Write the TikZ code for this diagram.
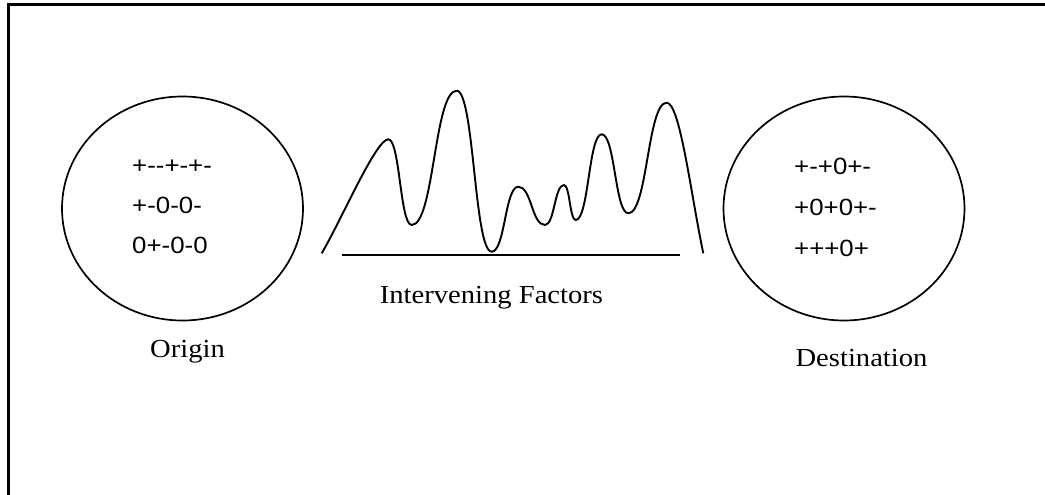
\documentclass[tikz,border=0pt]{standalone}
\usepackage{fontspec}
\newfontfamily\codefont{Liberation Sans}[FakeStretch=1.1]
\newfontfamily\labelfont{Liberation Serif}[FakeStretch=1.1]
\usetikzlibrary{shapes.geometric}
\begin{document}
\begin{tikzpicture}[x=1pt,y=-1pt,
  ring/.style={draw, ellipse, line width=1.7pt, minimum width=241pt, minimum height=224pt, inner sep=0pt},
  codes/.style={font=\codefont\fontsize{23.5}{28}\selectfont, anchor=base west, inner sep=0pt},
  caption/.style={font=\labelfont\fontsize{26}{30}\selectfont, anchor=base, inner sep=0pt},
  wave/.style={line width=1.9pt, line join=round},
  frameline/.style={line width=2.2pt}]
\useasboundingbox (0,0) rectangle (1045,495);
\fill[white] (0,0) rectangle (1045,495);
% frame (left and top edges)
\coordinate (fbl) at (8.5,495);
\coordinate (ftl) at (8.5,4.5);
\coordinate (ftr) at (1045,4.5);
\draw[frameline] (fbl) -- (ftl) -- (ftr);
% ellipses
\node[ring] (origin) at (182.5,208.5) {};
\node[ring] (dest) at (844,208.5) {};
% codes
\node[codes] (o1) at (132,173.3) {+--+-+-};
\node[codes] (o2) at (132,213.3) {+-0-0-};
\node[codes] (o3) at (132,253.3) {0+-0-0};
\node[codes] (d1) at (794,174) {+-+0+-};
\node[codes] (d2) at (794,215.5) {+0+0+-};
\node[codes] (d3) at (794,256.5) {+++0+};
% captions
\node[caption] (lorig) at (187.5,357) {Origin};
\node[caption] (lint) at (491.5,303) {Intervening Factors};
\node[caption] (ldest) at (861.5,366.5) {Destination};
% wave
\coordinate (ws) at (321.7,253.3);
\coordinate (we) at (703.3,253.3);
\draw[wave] (ws)
  .. controls (341.7,219.3) and (376,139.3) .. (388.3,139.3)
  .. controls (400,139.3) and (400,225) .. (411.7,225)
  .. controls (434.2,225) and (434.2,90.7) .. (456.7,90.7)
  .. controls (474.2,90.7) and (474.2,251.7) .. (491.7,251.7)
  .. controls (505,251.7) and (505,186.7) .. (518.3,186.7)
  .. controls (531.6,186.7) and (531.6,225) .. (545,225)
  .. controls (554.5,225) and (554.5,185) .. (564,185)
  .. controls (569.8,185) and (569.8,220) .. (575.7,220)
  .. controls (588.7,220) and (588.7,134.3) .. (601.7,134.3)
  .. controls (615,134.3) and (615,213.3) .. (628.3,213.3)
  .. controls (647.5,213.3) and (647.5,102.7) .. (666.7,102.7)
  .. controls (680,102.7) and (691,195) .. (we);
% baseline
\coordinate (bl) at (341.7,255);
\coordinate (br) at (680,255);
\draw[line width=2pt] (bl) -- (br);
\end{tikzpicture}
\end{document}
